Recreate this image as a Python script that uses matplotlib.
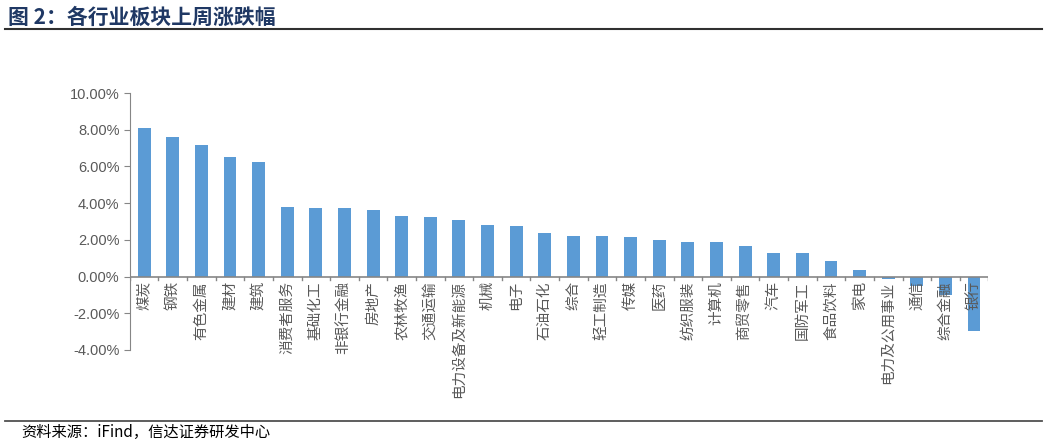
import numpy as np
import matplotlib.pyplot as plt
from matplotlib.ticker import FuncFormatter

plt.rcParams['font.family'] = ['Noto Sans CJK SC', 'DejaVu Sans']

industries = ['煤炭', '钢铁', '有色金属', '建材', '建筑', '消费者服务', '基础化工', '非银行金融',
              '房地产', '农林牧渔', '交通运输', '电力设备及新能源', '机械', '电子', '石油石化', '综合',
              '轻工制造', '传媒', '医药', '纺织服装', '计算机', '商贸零售', '汽车', '国防军工',
              '食品饮料', '家电', '电力及公用事业', '通信', '综合金融', '银行']
weekly_change = [8.10, 7.61, 7.17, 6.52, 6.25, 3.80, 3.72, 3.71,
                 3.64, 3.30, 3.24, 3.08, 2.83, 2.77, 2.39, 2.23,
                 2.23, 2.17, 2.00, 1.90, 1.90, 1.68, 1.30, 1.27,
                 0.85, 0.38, -0.12, -0.52, -1.00, -2.97]
yticks = [-4, -2, 0, 2, 4, 6, 8, 10]

gray = '#595959'
fig = plt.figure(figsize=(10.47, 4.45), dpi=100)
ax = fig.add_axes([0.124, 0.2135, 0.82, 0.5775])

x = np.arange(len(industries))
ax.bar(x, weekly_change, width=0.45, color='#5B9BD5')

ax.set_xlim(-0.5, len(industries) - 0.5)
ax.set_ylim(-4, 10)
ax.set_yticks(yticks)
ax.yaxis.set_major_formatter(FuncFormatter(lambda v, p: '{:.2f}%'.format(v)))
ax.tick_params(axis='y', colors=gray, labelsize=10.5, length=4, color='#868686')
for lbl in ax.get_yticklabels():
    lbl.set_family('Liberation Sans')

# category labels hang below the zero line
ax.set_xticks([])
for xi, name in zip(x, industries):
    ax.text(xi, -0.25, name, rotation=90, ha='center', va='top', fontsize=10.5, color=gray)
for b in np.arange(-0.5, len(industries) + 0.5, 1):
    ax.plot([b, b], [0, -0.2], color='#868686', lw=1)
ax.axhline(0, color='#868686', lw=1.2)

for s in ['top', 'right', 'bottom']:
    ax.spines[s].set_visible(False)
ax.spines['left'].set_color('#868686')

fig.text(0.008, 0.962, '图 2：各行业板块上周涨跌幅', fontsize=15, fontweight='bold',
         color='#1F3864', va='center')
fig.add_artist(plt.Line2D([0.005, 0.995], [0.934, 0.934], color='#303030', lw=1.5))
fig.add_artist(plt.Line2D([0.005, 0.995], [0.055, 0.055], color='#505050', lw=1.3))
fig.text(0.02, 0.028, '资料来源：iFind，信达证券研发中心', fontsize=11, style='italic',
         color='#000000', va='center')

fig.savefig('out.png', dpi=100)
